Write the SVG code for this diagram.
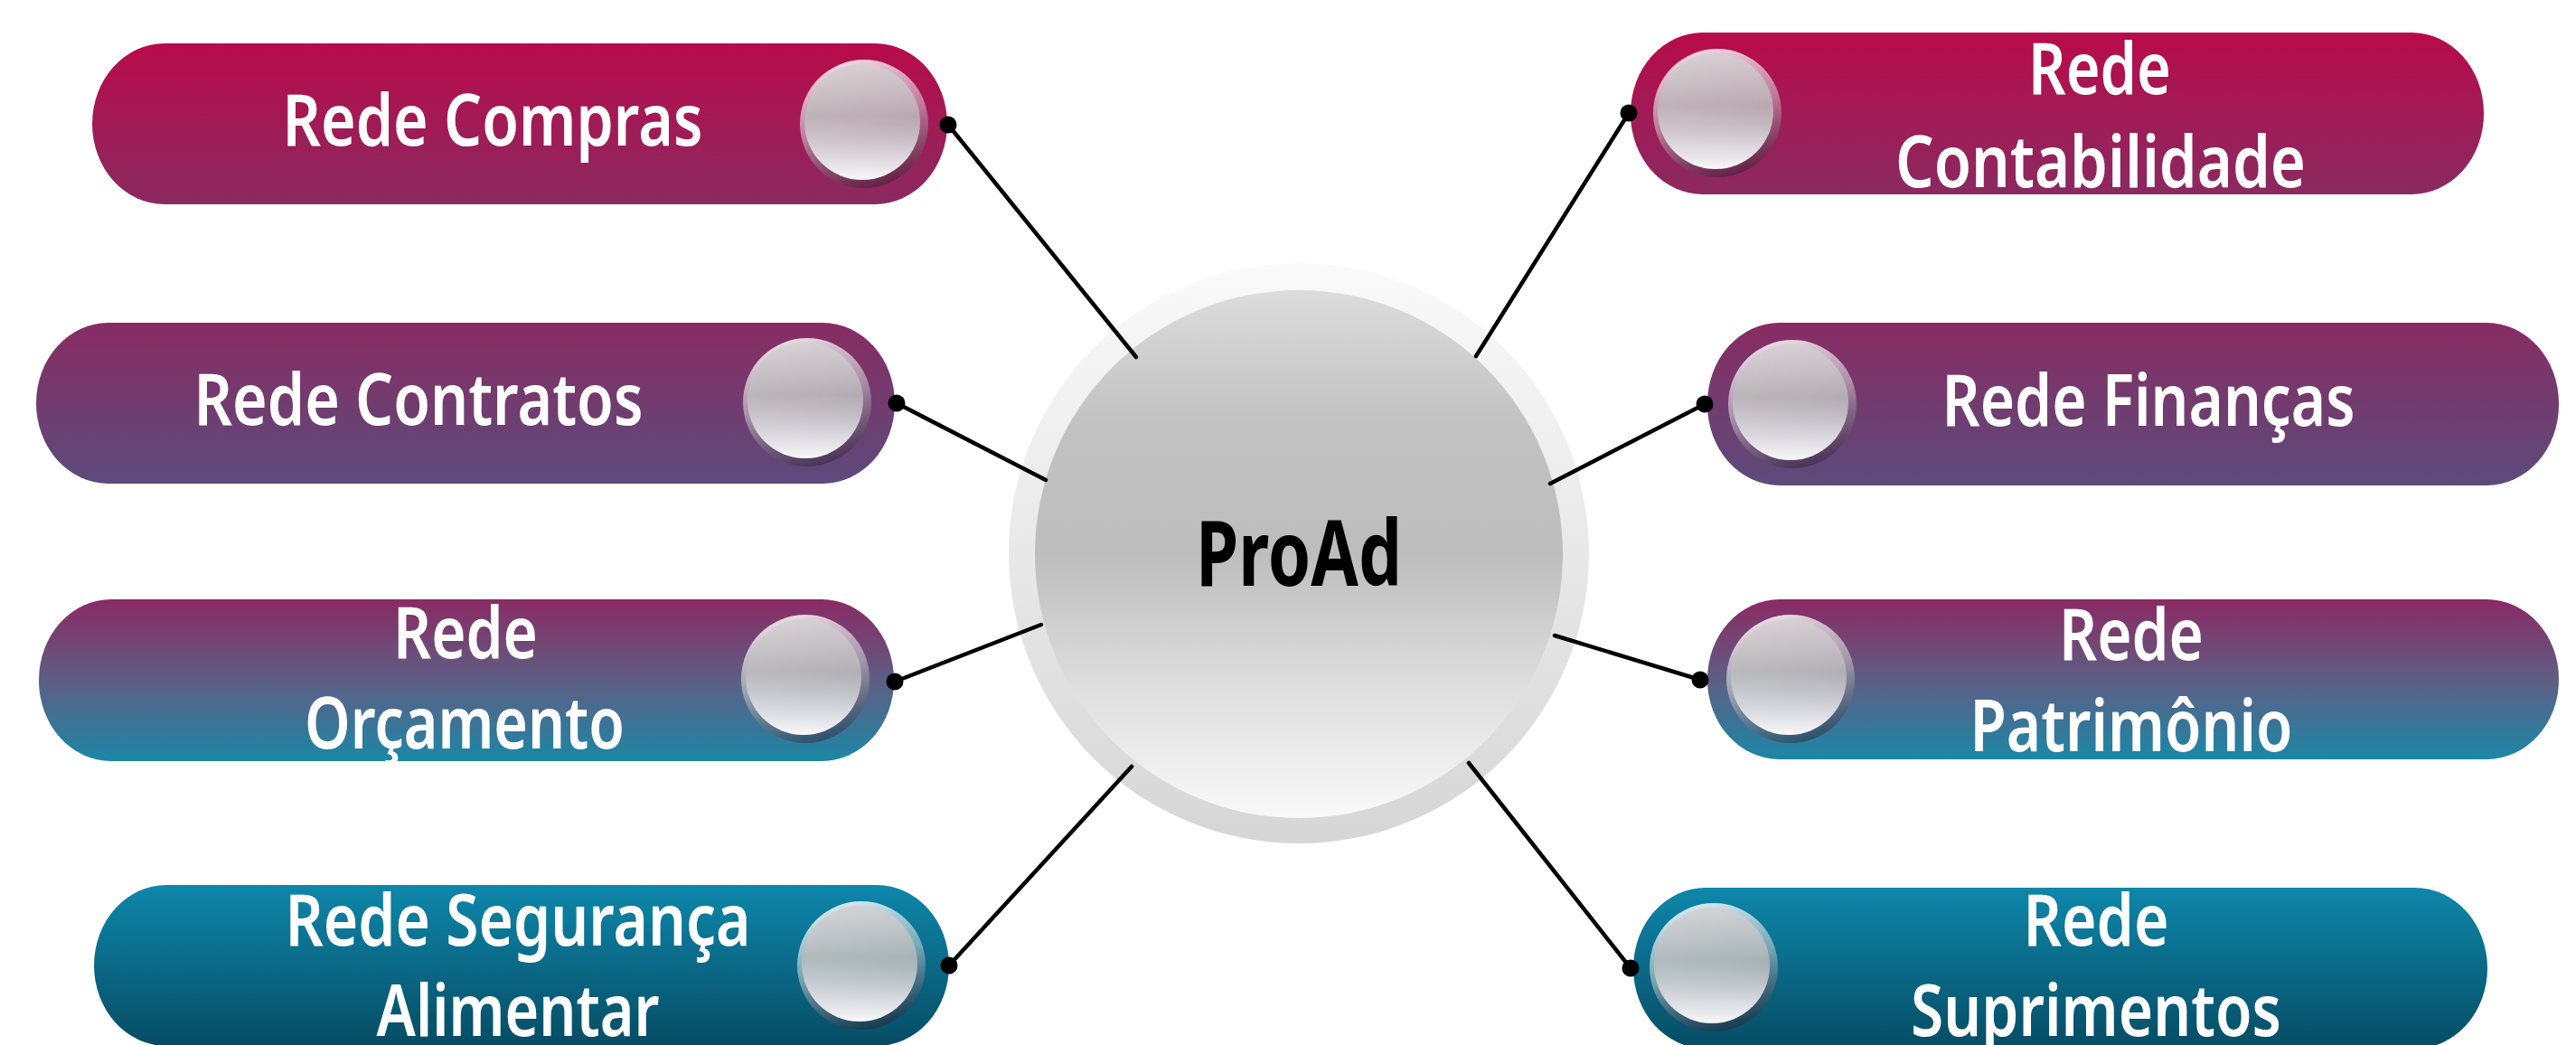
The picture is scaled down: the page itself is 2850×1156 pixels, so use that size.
<svg xmlns="http://www.w3.org/2000/svg" width="2850" height="1156" viewBox="0 0 2850 1156">
<defs>
<linearGradient id="g1" x1="0" y1="0" x2="0" y2="1"><stop offset="0" stop-color="#B80B4A"/><stop offset="1" stop-color="#8A2A60"/></linearGradient>
<linearGradient id="g2" x1="0" y1="0" x2="0" y2="1"><stop offset="0" stop-color="#882C62"/><stop offset="1" stop-color="#5C4B7C"/></linearGradient>
<linearGradient id="g3" x1="0" y1="0" x2="0" y2="1"><stop offset="0" stop-color="#8A2A63"/><stop offset="0.5" stop-color="#5E5E84"/><stop offset="1" stop-color="#1C87A6"/></linearGradient>
<linearGradient id="g4" x1="0" y1="0" x2="0" y2="1"><stop offset="0" stop-color="#0E87AA"/><stop offset="1" stop-color="#064C64"/></linearGradient>
<linearGradient id="beadRim" x1="0.3" y1="0" x2="0.6" y2="1"><stop offset="0" stop-color="#ffffff" stop-opacity="0.85"/><stop offset="0.5" stop-color="#dddddd" stop-opacity="0.5"/><stop offset="1" stop-color="#2a1a2a" stop-opacity="0.45"/></linearGradient>
<linearGradient id="beadIn" x1="0" y1="0" x2="0" y2="1"><stop offset="0" stop-color="#d4d0d2" stop-opacity="0.85"/><stop offset="0.45" stop-color="#bbbbbb" stop-opacity="0.75"/><stop offset="0.8" stop-color="#e4e4e8" stop-opacity="0.92"/><stop offset="1" stop-color="#f8f8fa" stop-opacity="1"/></linearGradient>
<linearGradient id="ringG" x1="0" y1="0" x2="0" y2="1"><stop offset="0" stop-color="#fafafa"/><stop offset="1" stop-color="#d6d6d6"/></linearGradient>
<linearGradient id="coreG" x1="0" y1="0" x2="0" y2="1"><stop offset="0" stop-color="#dcdcdc"/><stop offset="0.25" stop-color="#c2c2c2"/><stop offset="0.5" stop-color="#bdbdbd"/><stop offset="0.75" stop-color="#dedede"/><stop offset="1" stop-color="#f9f9f9"/></linearGradient>
<style>
.pill{rx:80px;ry:89px}
.rim{fill:url(#beadRim)}
.bin{fill:url(#beadIn)}
.lbl{font-family:"Noto Sans","Liberation Sans",sans-serif;font-weight:600;font-size:80px;fill:#ffffff;text-anchor:middle}
.hub{font-family:"Noto Sans","Liberation Sans",sans-serif;font-weight:700;font-size:100px;fill:#000000;text-anchor:middle}
.con line{stroke:#000;stroke-width:4.5;stroke-linecap:round}
.con circle{fill:#000}
</style>
</defs>
<rect width="2850" height="1156" fill="#ffffff"/>

<g id="node-compras">
<rect class="pill" x="102" y="48" width="946" height="178" rx="80" ry="89" fill="url(#g1)"/>
<circle class="rim" cx="956" cy="137" r="71"/><circle class="bin" cx="954" cy="135" r="64"/>
<text class="lbl" x="545" y="161" textLength="465" lengthAdjust="spacingAndGlyphs">Rede Compras</text>
</g>
<g id="node-contratos">
<rect x="40" y="357" width="950" height="178" rx="80" ry="89" fill="url(#g2)"/>
<circle class="rim" cx="893" cy="445" r="71"/><circle class="bin" cx="891" cy="443" r="64"/>
<text class="lbl" x="463" y="470" textLength="497" lengthAdjust="spacingAndGlyphs">Rede Contratos</text>
</g>
<g id="node-orcamento">
<rect x="43" y="663" width="946" height="179" rx="80" ry="89" fill="url(#g3)"/>
<circle class="rim" cx="891" cy="751" r="71"/><circle class="bin" cx="889" cy="749" r="64"/>
<text class="lbl" x="515" y="728" textLength="160" lengthAdjust="spacingAndGlyphs">Rede</text>
<text class="lbl" x="514" y="828" textLength="354" lengthAdjust="spacingAndGlyphs">Orçamento</text>
</g>
<g id="node-seguranca">
<rect x="104" y="979" width="946" height="178" rx="80" ry="89" fill="url(#g4)"/>
<circle class="rim" cx="953" cy="1068" r="71"/><circle class="bin" cx="951" cy="1066" r="64"/>
<text class="lbl" x="573" y="1046" textLength="515" lengthAdjust="spacingAndGlyphs">Rede Segurança</text>
<text class="lbl" x="573" y="1146" textLength="313" lengthAdjust="spacingAndGlyphs">Alimentar</text>
</g>
<g id="node-contabilidade">
<rect x="1804" y="36" width="944" height="179" rx="80" ry="89" fill="url(#g1)"/>
<circle class="rim" cx="1900" cy="125" r="71"/><circle class="bin" cx="1898" cy="123" r="64"/>
<text class="lbl" x="2323" y="104" textLength="158" lengthAdjust="spacingAndGlyphs">Rede</text>
<text class="lbl" x="2324" y="207" textLength="454" lengthAdjust="spacingAndGlyphs">Contabilidade</text>
</g>
<g id="node-financas">
<rect x="1889" y="357" width="942" height="180" rx="80" ry="89" fill="url(#g2)"/>
<circle class="rim" cx="1983" cy="447" r="71"/><circle class="bin" cx="1981" cy="445" r="64"/>
<text class="lbl" x="2377" y="471" textLength="457" lengthAdjust="spacingAndGlyphs">Rede Finanças</text>
</g>
<g id="node-patrimonio">
<rect x="1889" y="663" width="942" height="177" rx="80" ry="88" fill="url(#g3)"/>
<circle class="rim" cx="1981" cy="751" r="71"/><circle class="bin" cx="1979" cy="749" r="64"/>
<text class="lbl" x="2358" y="730" textLength="160" lengthAdjust="spacingAndGlyphs">Rede</text>
<text class="lbl" x="2358" y="831" textLength="357" lengthAdjust="spacingAndGlyphs">Patrimônio</text>
</g>
<g id="node-suprimentos">
<rect x="1807" y="982" width="945" height="178" rx="80" ry="89" fill="url(#g4)"/>
<circle class="rim" cx="1896" cy="1070" r="71"/><circle class="bin" cx="1894" cy="1068" r="64"/>
<text class="lbl" x="2319" y="1046" textLength="161" lengthAdjust="spacingAndGlyphs">Rede</text>
<text class="lbl" x="2319" y="1146" textLength="410" lengthAdjust="spacingAndGlyphs">Suprimentos</text>
</g>

<g id="node-proad">
<circle cx="1437" cy="612" r="321" fill="url(#ringG)"/>
<circle cx="1437" cy="613" r="292" fill="url(#coreG)"/>
<text class="hub" x="1437" y="648" textLength="228" lengthAdjust="spacingAndGlyphs">ProAd</text>
</g>

<g id="connectors" class="con">
<line x1="1049" y1="138" x2="1257" y2="395"/>
<line x1="992" y1="446" x2="1157" y2="531"/>
<line x1="990" y1="754" x2="1152" y2="691"/>
<line x1="1050" y1="1068" x2="1252" y2="848"/>
<line x1="1802" y1="125" x2="1633" y2="394"/>
<line x1="1886" y1="447" x2="1715" y2="535"/>
<line x1="1881" y1="752" x2="1720" y2="703"/>
<line x1="1804" y1="1071" x2="1625" y2="844"/>
<circle cx="1049" cy="138" r="9.5"/>
<circle cx="992" cy="446" r="9.5"/>
<circle cx="990" cy="754" r="9.5"/>
<circle cx="1050" cy="1068" r="9.5"/>
<circle cx="1802" cy="125" r="9.5"/>
<circle cx="1886" cy="447" r="9.5"/>
<circle cx="1881" cy="752" r="9.5"/>
<circle cx="1804" cy="1071" r="9.5"/>
</g>
</svg>
